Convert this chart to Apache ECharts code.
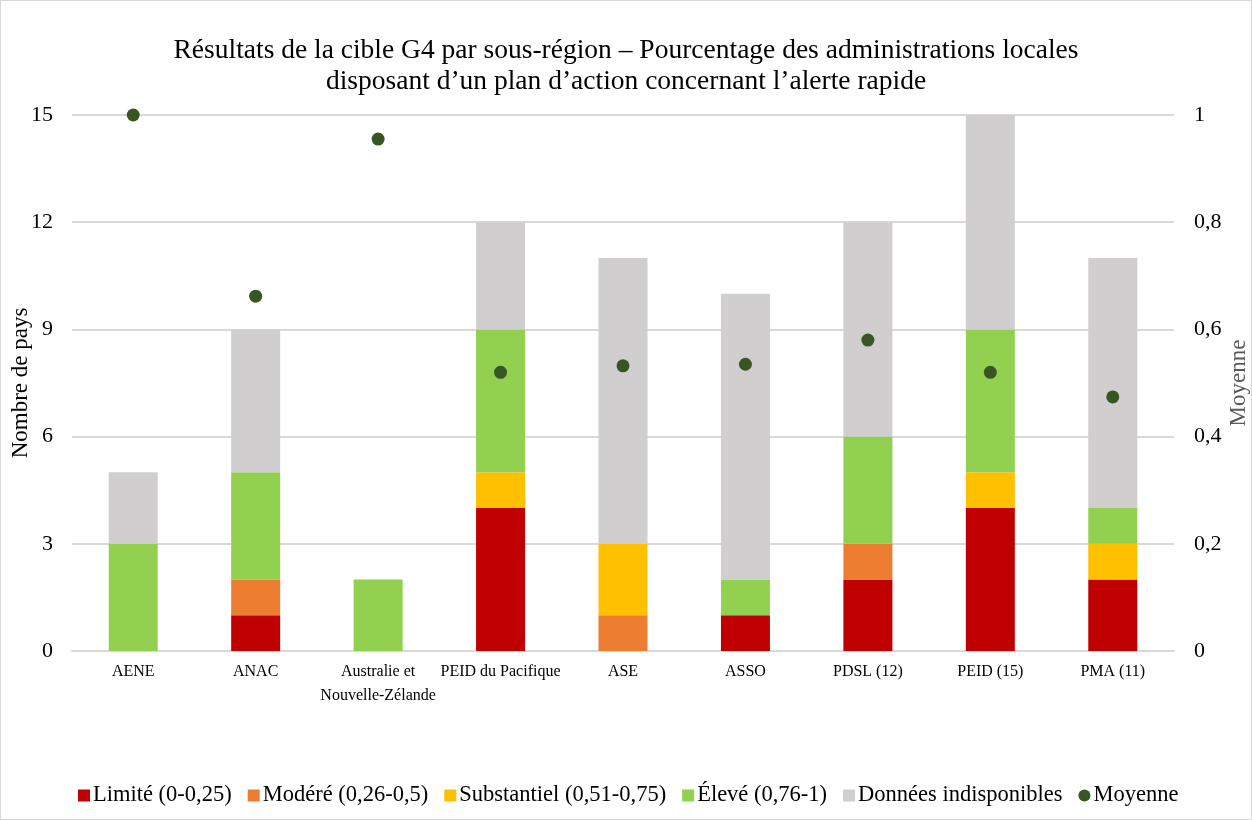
<!DOCTYPE html>
<html>
<head>
<meta charset="utf-8">
<script src="https://cdn.jsdelivr.net/npm/echarts@6/dist/echarts.min.js"></script>
<style>
  html, body { margin: 0; padding: 0; background: #fff; }
  #main { width: 1252px; height: 820px; box-sizing: border-box; border: 1px solid #d9d9d9; }
</style>
</head>
<body>
<div id="main"></div>
<script>
// sous-régions
const categories = ["AENE", "ANAC", "Australie et\nNouvelle-Zélande", "PEID du Pacifique", "ASE", "ASSO", "PDSL (12)", "PEID (15)", "PMA (11)"];
// nombre de pays par niveau
const limite = [0, 1, 0, 4, 0, 1, 2, 4, 2];
const modere = [0, 1, 0, 0, 1, 0, 1, 0, 0];
const substantiel = [0, 0, 0, 1, 2, 0, 0, 1, 1];
const eleve = [3, 3, 2, 4, 0, 1, 3, 4, 1];
const indisponibles = [2, 4, 0, 3, 8, 8, 6, 6, 7];
// moyenne (axe de droite)
const moyenne = [1.0, 0.662, 0.955, 0.52, 0.532, 0.535, 0.58, 0.52, 0.474];

const font = "'Liberation Serif', 'DejaVu Serif', serif";
const myChart = echarts.init(document.getElementById("main"));

function barSerie(name, data, color) {
  return {
    name: name,
    type: "bar",
    stack: "total",
    barWidth: 49,
    data: data,
    itemStyle: { color: color },
  };
}

const option = {
  animation: false,
  textStyle: { fontFamily: font },
  title: {
    text: "Résultats de la cible G4 par sous-région – Pourcentage des administrations locales\ndisposant d’un plan d’action concernant l’alerte rapide",
    left: "center",
    top: 29,
    textStyle: { fontFamily: font, fontSize: 27.5, fontWeight: "normal", color: "#000", lineHeight: 31 },
  },
  grid: { left: 71, right: 77, top: 114, bottom: 168, containLabel: false, outerBoundsMode: "none" },
  legend: {
    top: 778,
    left: 72,
    itemWidth: 12,
    itemHeight: 12,
    itemGap: 16,
    textStyle: { fontFamily: font, fontSize: 22.5, color: "#000", padding: [0, 0, 0, -2] },
    data: [
      { name: "Limité (0-0,25)", icon: "rect" },
      { name: "Modéré (0,26-0,5)", icon: "rect" },
      { name: "Substantiel (0,51-0,75)", icon: "rect" },
      { name: "Élevé (0,76-1)", icon: "rect" },
      { name: "Données indisponibles", icon: "rect" },
      { name: "Moyenne", icon: "circle" },
    ],
  },
  xAxis: {
    type: "category",
    data: categories,
    axisTick: { show: false },
    axisLine: { lineStyle: { color: "#d9d9d9", width: 2 } },
    axisLabel: { fontFamily: font, fontSize: 16, color: "#000", margin: 9, lineHeight: 24, interval: 0 },
  },
  yAxis: [
    {
      type: "value",
      min: 0,
      max: 15,
      interval: 3,
      name: "Nombre de pays",
      nameLocation: "middle",
      nameGap: 40,
      nameMoveOverlap: false,
      nameTextStyle: { fontFamily: font, fontSize: 23, color: "#000" },
      axisLabel: { fontFamily: font, fontSize: 22, color: "#000", margin: 19 },
      splitLine: { lineStyle: { color: "#d9d9d9", width: 2 } },
    },
    {
      type: "value",
      min: 0,
      max: 1,
      interval: 0.2,
      name: "Moyenne",
      nameLocation: "middle",
      nameGap: 53,
      nameMoveOverlap: false,
      nameTextStyle: { fontFamily: font, fontSize: 23, color: "#595959" },
      axisLabel: {
        fontFamily: font,
        fontSize: 22,
        color: "#000",
        margin: 20,
        formatter: (v) => String(Math.round(v * 10) / 10).replace(".", ","),
      },
      splitLine: { show: false },
    },
  ],
  series: [
    barSerie("Limité (0-0,25)", limite, "#C00000"),
    barSerie("Modéré (0,26-0,5)", modere, "#ED7D31"),
    barSerie("Substantiel (0,51-0,75)", substantiel, "#FFC000"),
    barSerie("Élevé (0,76-1)", eleve, "#92D050"),
    barSerie("Données indisponibles", indisponibles, "#D0CECE"),
    {
      name: "Moyenne",
      type: "scatter",
      yAxisIndex: 1,
      symbolSize: 13,
      data: moyenne,
      itemStyle: { color: "#375623", opacity: 1 },
      z: 5,
    },
  ],
};
myChart.setOption(option);
</script>
</body>
</html>
